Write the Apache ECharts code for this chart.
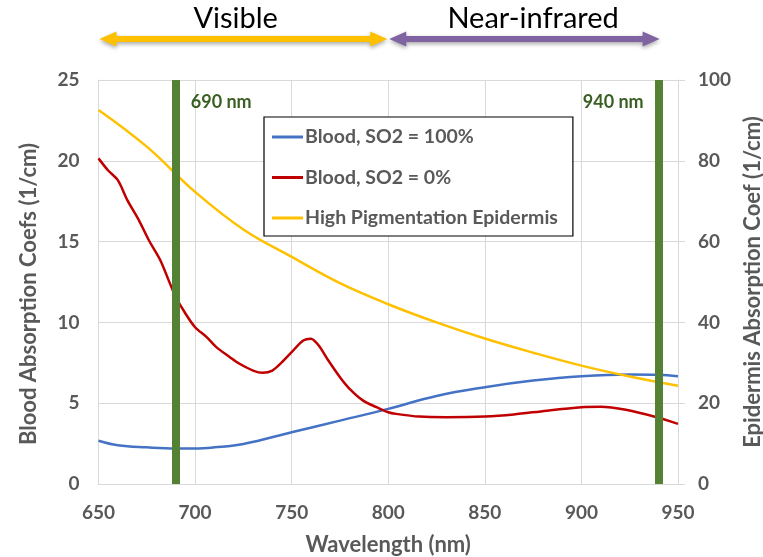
<!DOCTYPE html>
<html><head><meta charset="utf-8">
<script src="https://cdn.jsdelivr.net/npm/echarts@6/dist/echarts.min.js"></script>
<style>html,body{margin:0;padding:0;background:#fff}#c{width:763px;height:557px}</style>
</head><body><div id="c"></div>
<script>
// Blood SO2 = 100%
const wlBlue = [650,660,675,690,700,710,725,750,775,800,825,850,875,900,925,940,950];
const so2_100 = [2.68,2.4,2.27,2.2,2.2,2.27,2.48,3.2,3.92,4.65,5.45,5.99,6.4,6.67,6.78,6.76,6.67];
// Blood SO2 = 0%
const wlRed = [650,655,660,665,671,676,682,687,690,695,700,706,711,718,723,730,735,740,745,750,756,760,764,769,775,780,787,794,800,804,816,830,850,865,882,900,910,923,939,950];
const so2_0 = [20.15,19.4,18.8,17.55,16.3,15.1,13.85,12.4,11.57,10.55,9.7,9.09,8.47,7.85,7.44,7.02,6.88,7.02,7.54,8.16,8.88,8.99,8.57,7.64,6.61,5.89,5.16,4.75,4.44,4.34,4.17,4.13,4.17,4.3,4.54,4.75,4.78,4.59,4.13,3.72];
// High pigmentation epidermis (right axis)
const wlEpi = [650,675,700,725,750,775,800,825,850,875,900,925,950];
const epidermis = [92.6,83.5,72.3,63,56.2,49.7,44.5,40,36,32.5,29.3,26.6,24.3];
// marked wavelengths
const markedWl = [690, 940];
const markedLabels = ['690 nm', '940 nm'];
// spectral bands
const bandNames = ['Visible', 'Near-infrared'];
const bandFrom = [650, 800];
const bandTo = [800, 941];
const bandLabelAt = [721, 875];
const bandColors = ['#FFC000', '#8064A2'];
const seriesNames = ['Blood, SO2 = 100%', 'Blood, SO2 = 0%', 'High Pigmentation Epidermis'];

const FONT = 'Lato';
const GRAY = '#595959';
const zip = (a, b) => a.map((x, i) => [x, b[i]]);

const chart = echarts.init(document.getElementById('c'));
const option = {
  animation: false,
  textStyle: {fontFamily: FONT},
  grid: {left: 98.5, right: 85, top: 80, bottom: 73, containLabel: false, outerBoundsMode: 'none'},
  legend: {
    data: seriesNames.map(n => ({name: n, icon: 'path://M0,0 L31,0 L31,3 L0,3 Z'})),
    orient: 'vertical', left: 264, top: 117,
    padding: [10, 15, 8, 8],
    itemWidth: 31, itemHeight: 3, itemGap: 20.5, itemStyle: {borderWidth: 0},
    borderColor: '#000', borderWidth: 1.2, backgroundColor: '#fff',
    textStyle: {fontFamily: FONT, fontWeight: 'bold', fontSize: 19.5, color: GRAY, padding: [0, 0, 0, -3]}
  },
  xAxis: {
    type: 'value', min: 650, max: 950, interval: 50,
    name: 'Wavelength (nm)', nameLocation: 'middle', nameGap: 50,
    nameTextStyle: {fontFamily: FONT, fontWeight: 'bold', fontSize: 22, color: GRAY},
    axisLine: {show: true, lineStyle: {color: '#d9d9d9', width: 1}},
    axisTick: {show: false},
    axisLabel: {fontFamily: FONT, fontWeight: 'bold', fontSize: 19, color: GRAY, margin: 19},
    splitLine: {show: true, lineStyle: {color: '#d9d9d9', width: 1}}
  },
  yAxis: [{
    type: 'value', min: 0, max: 25, interval: 5,
    name: 'Blood Absorption Coefs (1/cm)', nameLocation: 'middle', nameGap: 59, nameRotate: 90,
    nameTextStyle: {fontFamily: FONT, fontWeight: 'bold', fontSize: 22, color: GRAY, padding: [0, 0, 0, -24]},
    axisLine: {show: true, lineStyle: {color: '#d9d9d9', width: 1}},
    axisTick: {show: false},
    axisLabel: {fontFamily: FONT, fontWeight: 'bold', fontSize: 19, color: GRAY, margin: 19},
    splitLine: {show: true, lineStyle: {color: '#d9d9d9', width: 1}}
  }, {
    type: 'value', min: 0, max: 100, interval: 20, position: 'right',
    name: 'Epidermis Absorption Coef (1/cm)', nameLocation: 'middle', nameGap: 60, nameRotate: 90,
    nameTextStyle: {fontFamily: FONT, fontWeight: 'bold', fontSize: 22, color: GRAY},
    axisLine: {show: true, lineStyle: {color: '#d9d9d9', width: 1}},
    axisTick: {show: true, length: 7, lineStyle: {color: '#d9d9d9'}},
    axisLabel: {fontFamily: FONT, fontWeight: 'bold', fontSize: 19, color: GRAY, margin: 20},
    splitLine: {show: false}
  }],
  series: [
    {name: seriesNames[0], type: 'line', yAxisIndex: 0, data: zip(wlBlue, so2_100), smooth: 0.4,
     showSymbol: false, lineStyle: {color: '#4472C4', width: 2.5}, itemStyle: {color: '#4472C4'}, z: 5},
    {name: seriesNames[1], type: 'line', yAxisIndex: 0, data: zip(wlRed, so2_0), smooth: 0.3,
     showSymbol: false, lineStyle: {color: '#C00000', width: 2.5}, itemStyle: {color: '#C00000'}, z: 5},
    {name: seriesNames[2], type: 'line', yAxisIndex: 1, data: zip(wlEpi, epidermis), smooth: 0.4,
     showSymbol: false, lineStyle: {color: '#FFC000', width: 2.5}, itemStyle: {color: '#FFC000'}, z: 5,
     markLine: {
       silent: true, symbol: 'none', z: 10,
       lineStyle: {color: '#548235', width: 8, type: 'solid'},
       label: {show: false},
       data: markedWl.map(w => ({xAxis: w}))
     },
     markPoint: {
       silent: true, symbolSize: 0,
       data: markedWl.map((w, i) => ({
         coord: [w, 94.5],
         label: {show: true, formatter: markedLabels[i], position: i === 0 ? 'right' : 'left',
                 distance: 15, fontFamily: FONT, fontWeight: 'bold', fontSize: 18, color: '#3A5F22'}
       }))
     }}
  ]
};
chart.setOption(option);

// band arrows above the plot, positioned from the x axis scale
const arrowY = 39, thick = 6, headL = 17, headW = 15;
const graphics = [];
bandNames.forEach((name, i) => {
  const x1 = chart.convertToPixel({xAxisIndex: 0}, bandFrom[i]) + 1;
  const x2 = chart.convertToPixel({xAxisIndex: 0}, bandTo[i]) - 1;
  const xt = chart.convertToPixel({xAxisIndex: 0}, bandLabelAt[i]);
  const shadow = {shadowBlur: 4, shadowColor: 'rgba(0,0,0,0.35)', shadowOffsetY: 2};
  graphics.push({
    type: 'polygon',
    shape: {points: [
      [x1, arrowY], [x1 + headL, arrowY - headW / 2], [x1 + headL, arrowY - thick / 2],
      [x2 - headL, arrowY - thick / 2], [x2 - headL, arrowY - headW / 2], [x2, arrowY],
      [x2 - headL, arrowY + headW / 2], [x2 - headL, arrowY + thick / 2],
      [x1 + headL, arrowY + thick / 2], [x1 + headL, arrowY + headW / 2]
    ]},
    style: Object.assign({fill: bandColors[i]}, shadow)
  });
  graphics.push({
    type: 'text', x: xt, y: 19,
    style: {text: name, fill: '#000', font: '29px ' + FONT, textAlign: 'center', textVerticalAlign: 'middle'}
  });
});
chart.setOption({graphic: graphics});
</script></body></html>
